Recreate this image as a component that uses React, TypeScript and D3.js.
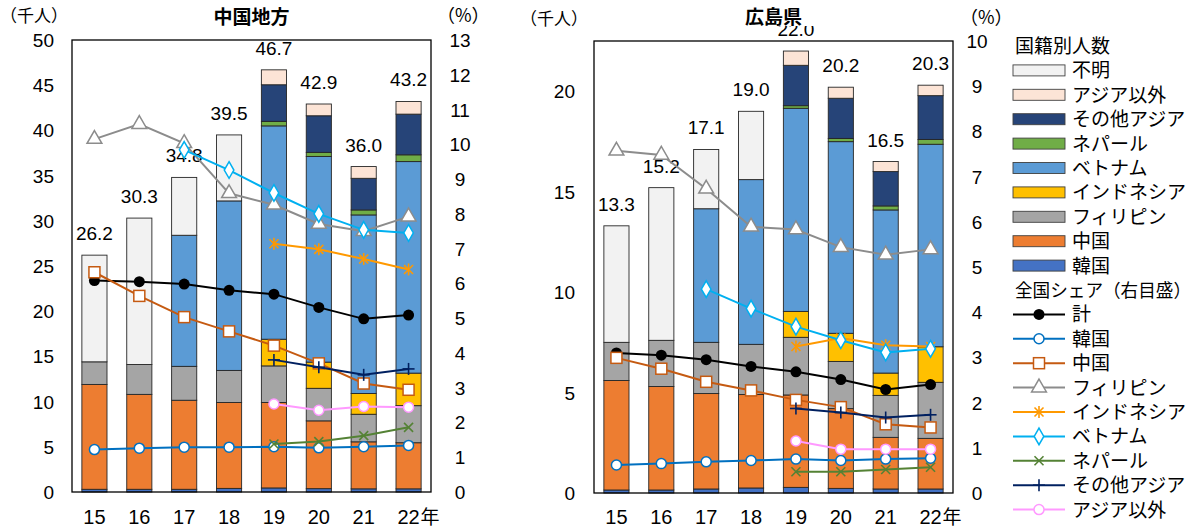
import React from "react";
import * as d3 from "d3";

const years = ["15", "16", "17", "18", "19", "20", "21", "22"];

// stack order bottom -> top
const barKeys = ["韓国", "中国", "フィリピン", "インドネシア", "ベトナム", "ネパール", "その他アジア", "アジア以外", "不明"];
const barColors = ["#4472c4", "#ed7d31", "#a5a5a5", "#ffc000", "#5b9bd5", "#70ad47", "#264478", "#fce4d6", "#f2f2f2"];

// 中国地方 (千人)
const cgKorea = [0.3, 0.3, 0.3, 0.4, 0.45, 0.37, 0.35, 0.35];
const cgChina = [11.6, 10.5, 9.85, 9.5, 9.45, 7.5, 5.2, 5.1];
const cgPhil = [2.5, 3.3, 3.75, 3.55, 4.05, 3.6, 3.05, 4.1];
const cgIndo = [0, 0, 0, 0, 2.95, 2.9, 2.3, 3.6];
const cgViet = [0, 0, 14.5, 18.75, 23.6, 22.75, 19.75, 23.4];
const cgNepal = [0, 0, 0, 0, 0.5, 0.45, 0.55, 0.75];
const cgOtherAsia = [0, 0, 0, 0, 4.05, 4.05, 3.5, 4.5];
const cgNonAsia = [0, 0, 0, 0, 1.65, 1.3, 1.3, 1.4];
const cgUnknown = [11.8, 16.2, 6.4, 7.3, 0, 0, 0, 0];
const cgTotals = [26.2, 30.3, 34.8, 39.5, 46.7, 42.9, 36.0, 43.2];

// 広島県 (千人)
const hsKorea = [0.15, 0.15, 0.2, 0.25, 0.28, 0.23, 0.2, 0.2];
const hsChina = [5.45, 5.15, 4.75, 4.65, 4.6, 3.97, 2.57, 2.52];
const hsPhil = [1.9, 2.3, 2.55, 2.5, 2.87, 2.35, 2.09, 2.79];
const hsIndo = [0, 0, 0, 0, 1.29, 1.4, 1.11, 1.77];
const hsViet = [0, 0, 6.65, 8.2, 10.11, 9.54, 8.12, 10.08];
const hsNepal = [0, 0, 0, 0, 0.13, 0.16, 0.2, 0.24];
const hsOtherAsia = [0, 0, 0, 0, 2.01, 2.0, 1.71, 2.18];
const hsNonAsia = [0, 0, 0, 0, 0.71, 0.55, 0.5, 0.52];
const hsUnknown = [5.8, 7.6, 2.95, 3.4, 0, 0, 0, 0];
const hsTotals = [13.3, 15.2, 17.1, 19.0, 22.0, 20.2, 16.5, 20.3];

// 全国シェア (%)
const N = null;
const lineKeys = ["計", "韓国", "中国", "フィリピン", "インドネシア", "ベトナム", "ネパール", "その他アジア", "アジア以外"];
const lineColors = ["#000000", "#0070c0", "#c55a11", "#8c8c8c", "#ff9900", "#00b0f0", "#548235", "#002060", "#ff99ff"];
const lineMarkers = ["dot", "circle", "square", "triangle", "star", "diamond", "x", "plus", "circle"];

const cgShareTotal = [6.08, 6.05, 5.98, 5.8, 5.69, 5.31, 4.98, 5.09];
const cgShareKorea = [1.22, 1.26, 1.29, 1.29, 1.3, 1.27, 1.3, 1.34];
const cgShareChina = [6.32, 5.64, 5.03, 4.62, 4.21, 3.7, 3.12, 2.94];
const cgSharePhil = [10.15, 10.58, 10.03, 8.59, 8.26, 7.71, 7.5, 7.92];
const cgShareIndo = [N, N, N, N, 7.14, 6.98, 6.7, 6.4];
const cgShareViet = [N, N, 9.84, 9.26, 8.6, 8.0, 7.54, 7.45];
const cgShareNepal = [N, N, N, N, 1.38, 1.45, 1.62, 1.86];
const cgShareOther = [N, N, N, N, 3.8, 3.59, 3.37, 3.54];
const cgShareNonAsia = [N, N, N, N, 2.53, 2.35, 2.46, 2.44];

const hsShareTotal = [3.1, 3.05, 2.95, 2.8, 2.68, 2.51, 2.29, 2.4];
const hsShareKorea = [0.62, 0.65, 0.69, 0.72, 0.75, 0.72, 0.75, 0.77];
const hsShareChina = [2.99, 2.75, 2.46, 2.27, 2.06, 1.9, 1.52, 1.45];
const hsSharePhil = [7.57, 7.48, 6.73, 5.89, 5.83, 5.44, 5.27, 5.39];
const hsShareIndo = [N, N, N, N, 3.24, 3.43, 3.27, 3.24];
const hsShareViet = [N, N, 4.51, 4.08, 3.68, 3.38, 3.11, 3.19];
const hsShareNepal = [N, N, N, N, 0.47, 0.47, 0.52, 0.57];
const hsShareOther = [N, N, N, N, 1.87, 1.78, 1.67, 1.73];
const hsShareNonAsia = [N, N, N, N, 1.15, 0.97, 0.97, 0.97];

const cgLeftTicks = [0, 5, 10, 15, 20, 25, 30, 35, 40, 45, 50];
const cgRightTicks = [0, 1, 2, 3, 4, 5, 6, 7, 8, 9, 10, 11, 12, 13];
const hsLeftTicks = [0, 5, 10, 15, 20];
const hsRightTicks = [0, 1, 2, 3, 4, 5, 6, 7, 8, 9, 10];

const FONT = "'Liberation Sans', Arial, 'Noto Sans CJK JP', sans-serif";
const JFONT = "'Noto Sans CJK JP', 'Liberation Sans', sans-serif";

function Marker({ type, x, y, color }: { type: string; x: number; y: number; color: string }) {
  const sw = 1.5;
  switch (type) {
    case "dot":
      return <circle cx={x} cy={y} r={5.5} fill={color} />;
    case "circle":
      return <circle cx={x} cy={y} r={5} fill="#fff" stroke={color} strokeWidth={sw} />;
    case "square":
      return <rect x={x - 5.5} y={y - 5.5} width={11} height={11} fill="#fff" stroke={color} strokeWidth={sw} />;
    case "triangle":
      return (
        <path
          transform={`translate(${x},${y})`}
          d={d3.symbol(d3.symbolTriangle, 95)() || ""}
          fill="#fff"
          stroke={color}
          strokeWidth={sw}
        />
      );
    case "diamond":
      return (
        <path
          transform={`translate(${x},${y})`}
          d={d3.symbol(d3.symbolDiamond, 80)() || ""}
          fill="#fff"
          stroke={color}
          strokeWidth={sw}
        />
      );
    case "star":
      return (
        <g stroke={color} strokeWidth={1.6}>
          <line x1={x - 4.5} y1={y - 4.5} x2={x + 4.5} y2={y + 4.5} />
          <line x1={x - 4.5} y1={y + 4.5} x2={x + 4.5} y2={y - 4.5} />
          <line x1={x} y1={y - 6} x2={x} y2={y + 6} />
        </g>
      );
    case "x":
      return (
        <g stroke={color} strokeWidth={1.6}>
          <line x1={x - 4.5} y1={y - 4.5} x2={x + 4.5} y2={y + 4.5} />
          <line x1={x - 4.5} y1={y + 4.5} x2={x + 4.5} y2={y - 4.5} />
        </g>
      );
    case "plus":
      return (
        <g stroke={color} strokeWidth={1.6}>
          <line x1={x} y1={y - 6} x2={x} y2={y + 6} />
          <line x1={x - 6} y1={y} x2={x + 6} y2={y} />
        </g>
      );
    default:
      return null;
  }
}

type PanelProps = {
  title: string;
  x0: number;
  x1: number;
  y0: number;
  y1: number;
  leftMax: number;
  rightMax: number;
  leftTicks: number[];
  rightTicks: number[];
  bars: number[][];
  totals: number[];
  shares: (number | null)[][];
  leftLabelX: number;
  rightLabelX: number;
  unitLeft: [number, number];
  unitRight: [number, number];
};

function Panel(p: PanelProps) {
  const x = d3.scaleBand<string>().domain(years).range([p.x0, p.x1]).paddingInner(0.44).paddingOuter(0.22);
  const yL = d3.scaleLinear().domain([0, p.leftMax]).range([p.y1, p.y0]);
  const yR = d3.scaleLinear().domain([0, p.rightMax]).range([p.y1, p.y0]);
  const rows = years.map((yr, i) => {
    const o: any = { year: yr };
    barKeys.forEach((k, j) => (o[k] = p.bars[j][i]));
    return o;
  });
  const stacked = d3.stack<any>().keys(barKeys)(rows);
  const bw = x.bandwidth();
  const cx = (yr: string) => (x(yr) as number) + bw / 2;
  const midX = (p.x0 + p.x1) / 2;

  return (
    <g>
      {/* bars */}
      {stacked.map((layer, j) => (
        <g key={barKeys[j]} fill={barColors[j]} stroke="#262626" strokeWidth={0.9}>
          {layer.map((d, i) =>
            d[1] - d[0] > 0 ? (
              <rect key={i} x={x(years[i])} y={yL(d[1])} width={bw} height={yL(d[0]) - yL(d[1])} />
            ) : null
          )}
        </g>
      ))}
      {/* totals */}
      {years.map((yr, i) => (
        <text key={yr} x={cx(yr)} y={yL(p.totals[i]) - 15} textAnchor="middle" fontSize={19} fontFamily={FONT} fill="#000">
          {d3.format(".1f")(p.totals[i])}
        </text>
      ))}
      {/* frame */}
      <rect x={p.x0} y={p.y0} width={p.x1 - p.x0} height={p.y1 - p.y0} fill="none" stroke="#000" strokeWidth={1.3} />
      {/* lines */}
      {p.shares.map((s, j) => {
        const line = d3
          .line<number | null>()
          .defined((d) => d != null)
          .x((_, i) => cx(years[i]))
          .y((d) => yR(d as number));
        return (
          <g key={lineKeys[j]}>
            <path d={line(s) || ""} fill="none" stroke={lineColors[j]} strokeWidth={2} />
            {s.map((v, i) =>
              v == null ? null : <Marker key={i} type={lineMarkers[j]} x={cx(years[i])} y={yR(v)} color={lineColors[j]} />
            )}
          </g>
        );
      })}
      {/* axes labels */}
      {p.leftTicks.map((t) => (
        <text key={"l" + t} x={p.leftLabelX} y={yL(t) + 7} textAnchor="end" fontSize={19} fontFamily={FONT}>
          {t}
        </text>
      ))}
      {p.rightTicks.map((t) => (
        <text key={"r" + t} x={p.rightLabelX} y={yR(t) + 7} textAnchor="middle" fontSize={19} fontFamily={FONT}>
          {t}
        </text>
      ))}
      {years.map((yr) => (
        <text key={"x" + yr} x={cx(yr)} y={524} textAnchor="middle" fontSize={20} fontFamily={FONT}>
          {yr}
        </text>
      ))}
      <text x={cx(years[years.length - 1]) + 12} y={524} fontSize={19} fontFamily={JFONT}>
        年
      </text>
      {/* title box (white, covers what lies under it as in the source) */}
      <rect x={midX - 48} y={0} width={96} height={26} fill="#fff" />
      <text x={midX} y={24} textAnchor="middle" fontSize={19} fontWeight="bold" fontFamily={JFONT}>
        {p.title}
      </text>
      <text x={p.unitLeft[0]} y={p.unitLeft[1]} fontSize={17} fontFamily={JFONT}>
        （千人）
      </text>
      <text x={p.unitRight[0]} y={p.unitRight[1]} fontSize={18} fontFamily={JFONT}>
        （%）
      </text>
    </g>
  );
}

function Legend({ x, y }: { x: number; y: number }) {
  const step = 24.4;
  const barOrder = [...barKeys].reverse();
  const barColorOrder = [...barColors].reverse();
  return (
    <g fontFamily={JFONT} fontSize={19}>
      <text x={x + 2} y={y + 7}>国籍別人数</text>
      {barOrder.map((k, i) => (
        <g key={k}>
          <rect x={x} y={y + step * (i + 1) - 5.5} width={52} height={11} fill={barColorOrder[i]} stroke="#404040" strokeWidth={0.9} />
          <text x={x + 59} y={y + step * (i + 1) + 7}>{k}</text>
        </g>
      ))}
      <text x={x + 2} y={y + step * 10 + 7} fontSize={18} textLength={176} lengthAdjust="spacingAndGlyphs">
        全国シェア（右目盛）
      </text>
      {lineKeys.map((k, i) => {
        const yy = y + step * (11 + i);
        return (
          <g key={"s" + k}>
            <line x1={x} x2={x + 52} y1={yy} y2={yy} stroke={lineColors[i]} strokeWidth={2} />
            <Marker type={lineMarkers[i]} x={x + 26} y={yy} color={lineColors[i]} />
            <text x={x + 59} y={yy + 7}>{k}</text>
          </g>
        );
      })}
    </g>
  );
}

export default function App() {
  const cgBars = [cgKorea, cgChina, cgPhil, cgIndo, cgViet, cgNepal, cgOtherAsia, cgNonAsia, cgUnknown];
  const hsBars = [hsKorea, hsChina, hsPhil, hsIndo, hsViet, hsNepal, hsOtherAsia, hsNonAsia, hsUnknown];
  const cgShares = [cgShareTotal, cgShareKorea, cgShareChina, cgSharePhil, cgShareIndo, cgShareViet, cgShareNepal, cgShareOther, cgShareNonAsia];
  const hsShares = [hsShareTotal, hsShareKorea, hsShareChina, hsSharePhil, hsShareIndo, hsShareViet, hsShareNepal, hsShareOther, hsShareNonAsia];
  return (
    <svg width={1202} height={532} style={{ position: "absolute", left: 0, top: 0, background: "#fff" }}>
      <rect width={1202} height={532} fill="#fff" />
      <Panel
        title="中国地方"
        x0={72}
        x1={431}
        y0={40}
        y1={492}
        leftMax={50}
        rightMax={13}
        leftTicks={cgLeftTicks}
        rightTicks={cgRightTicks}
        bars={cgBars}
        totals={cgTotals}
        shares={cgShares}
        leftLabelX={54}
        rightLabelX={460}
        unitLeft={[0, 22]}
        unitRight={[437, 22]}
      />
      <Panel
        title="広島県"
        x0={594}
        x1={953}
        y0={41}
        y1={493}
        leftMax={22.5}
        rightMax={10}
        leftTicks={hsLeftTicks}
        rightTicks={hsRightTicks}
        bars={hsBars}
        totals={hsTotals}
        shares={hsShares}
        leftLabelX={575}
        rightLabelX={977}
        unitLeft={[520, 25]}
        unitRight={[960, 24]}
      />
      <Legend x={1013} y={46} />
    </svg>
  );
}
